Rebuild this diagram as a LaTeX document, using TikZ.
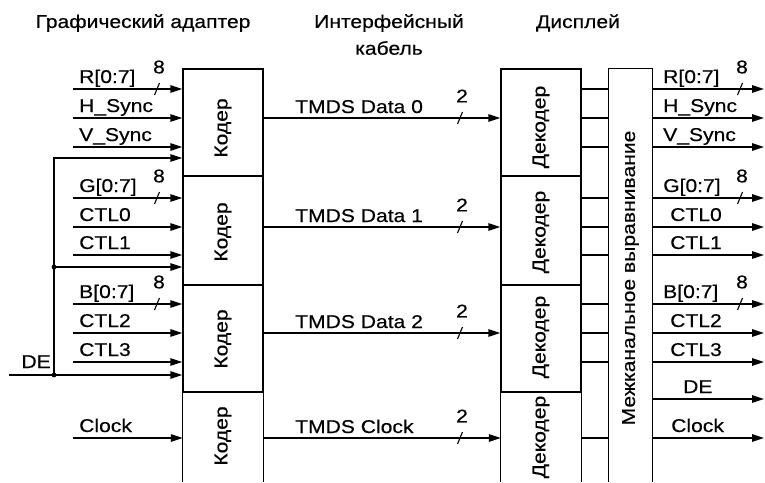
\documentclass[tikz,border=0pt]{standalone}
\usepackage{fontspec}
\setmainfont{Liberation Sans}[FakeStretch=1.14,FakeBold=0.4]
\usetikzlibrary{arrows.meta,calc}
\tikzset{
  wire/.style={line width=1.35pt},
  sig/.style={line width=1.35pt,-{Triangle[length=12pt,width=7.5pt]}},
  blk/.style={draw,line width=1.35pt,minimum width=80pt,inner sep=0pt},
  lbl/.style={font=\fontsize{18.5}{20}\selectfont,inner sep=0pt},
  rot/.style={lbl,rotate=90},
}
\newcommand\inpt[4]{%
  \coordinate (i#1) at (73,#2);
  \draw[sig] (i#1) -- (i#1 -| #4.west);
  \node[lbl,anchor=base west] (li#1) at (79,#2-6) {#3};
}
\newcommand\outpt[4]{%
  \coordinate (o#1) at (764,#2);
  \draw[sig] (o#1 -| align.east) -- (o#1);
  \node[lbl,anchor=base west] (lo#1) at (#4,#2-6) {#3};
}
\newcommand\busmark[4]{%
  \coordinate (b#1) at (#2,#3);
  \draw[line width=1.1pt] ([shift={(-2.5,6)}]b#1) -- ([shift={(2.5,-6)}]b#1);
  \node[lbl] (bl#1) at ([shift={(2,-22)}]b#1) {#4};
}
\begin{document}
\begin{tikzpicture}[x=1pt,y=-1pt]
\fill[white] (0,0) rectangle (765,482);
\useasboundingbox (0,0) rectangle (765,482);

% headers
\node[lbl] (hA) at (143,23) {Графический адаптер};
\node[lbl] (hB) at (389,23) {Интерфейсный};
\node[lbl] (hB2) at (389,48) {кабель};
\node[lbl] (hC) at (578,23) {Дисплей};

% encoder boxes
\node[blk,minimum height=107pt] (enc1) at (223,122.5) {};
\node[blk,minimum height=109pt] (enc2) at (223,230.5) {};
\node[blk,minimum height=107pt] (enc3) at (223,338.5) {};
\node[minimum width=80pt,minimum height=90pt,inner sep=0pt] (enc4) at (223,437) {};
\draw[wire] (enc4.south west) -- (enc4.north west) -- (enc4.north east) -- (enc4.south east);

% decoder boxes
\node[blk,minimum height=107pt] (dec1) at (541,122.5) {};
\node[blk,minimum height=109pt] (dec2) at (541,230.5) {};
\node[blk,minimum height=107pt] (dec3) at (541,338.5) {};
\node[minimum width=80pt,minimum height=90pt,inner sep=0pt] (dec4) at (541,437) {};
\draw[wire] (dec4.south west) -- (dec4.north west) -- (dec4.north east) -- (dec4.south east);

% alignment box
\node[minimum width=43pt,minimum height=413pt,inner sep=0pt] (align) at (630.5,275.5) {};
\draw[wire] (align.south west) -- (align.north west) -- (align.north east) -- (align.south east);

% rotated labels
\node[rot] (tE1) at (223,128) {Кодер};
\node[rot] (tE2) at (223,232) {Кодер};
\node[rot] (tE3) at (223,339) {Кодер};
\node[rot] (tE4) at (223,436) {Кодер};
\node[rot] (tD1) at (541,127) {Декодер};
\node[rot] (tD2) at (541,232) {Декодер};
\node[rot] (tD3) at (541,337) {Декодер};
\node[rot] (tD4) at (541,437) {Декодер};
\node[rot] (tA) at (630.5,278) {Межканальное выравнивание};

% inputs
\inpt{R}{89}{R[0:7]}{enc1}
\inpt{H}{118}{H\_Sync}{enc1}
\inpt{V}{147}{V\_Sync}{enc1}
\inpt{G}{198}{G[0:7]}{enc2}
\inpt{Ca}{227}{CTL0}{enc2}
\inpt{Cb}{255}{CTL1}{enc2}
\inpt{B}{304}{B[0:7]}{enc3}
\inpt{Cc}{333}{CTL2}{enc3}
\inpt{Cd}{362}{CTL3}{enc3}
\inpt{K}{438}{Clock}{enc4}
\busmark{iR}{157}{89}{8}
\busmark{iG}{157}{198}{8}
\busmark{iB}{157}{304}{8}

% DE distribution
\coordinate (deIn) at (9,375);
\coordinate (deTop) at (54,158);
\coordinate (deJ2) at (54,267);
\coordinate (deJ3) at (54,375);
\draw[sig] (deIn) -- (deIn -| enc3.west);
\draw[sig] (deJ3) -- (deTop) -- (deTop -| enc1.west);
\draw[sig] (deJ2) -- (deJ2 -| enc2.west);
\fill (deJ2) circle (2.4pt);
\fill (deJ3) circle (2.4pt);
\node[lbl,anchor=base east] (lDE) at (51,368) {DE};

% TMDS links
\draw[sig] (enc1.east |- iH) -- (dec1.west |- iH);
\draw[sig] (enc2.east |- iCa) -- (dec2.west |- iCa);
\draw[sig] (enc3.east |- iCc) -- (dec3.west |- iCc);
\draw[sig] (enc4.east |- iK) -- (dec4.west |- iK);
\node[lbl,anchor=base west] (lT0) at (295,113) {TMDS Data 0};
\node[lbl,anchor=base west] (lT1) at (295,222) {TMDS Data 1};
\node[lbl,anchor=base west] (lT2) at (295,328) {TMDS Data 2};
\node[lbl,anchor=base west] (lT3) at (295,433) {TMDS Clock};
\busmark{t0}{460}{118}{2}
\busmark{t1}{460}{227}{2}
\busmark{t2}{460}{333}{2}
\busmark{t3}{460}{438}{2}

% outputs
\outpt{R}{89}{R[0:7]}{663}
\outpt{H}{118}{H\_Sync}{663}
\outpt{V}{147}{V\_Sync}{663}
\outpt{G}{198}{G[0:7]}{663}
\outpt{Ca}{227}{CTL0}{670}
\outpt{Cb}{255}{CTL1}{670}
\outpt{B}{304}{B[0:7]}{663}
\outpt{Cc}{333}{CTL2}{670}
\outpt{Cd}{362}{CTL3}{670}
\outpt{D}{399}{DE}{683}
\outpt{K}{438}{Clock}{671}
\busmark{oR}{740}{89}{8}
\busmark{oG}{740}{198}{8}
\busmark{oB}{740}{304}{8}

% decoder to alignment wires
\draw[wire] (oR -| dec1.east) -- (oR -| align.west);
\draw[wire] (oH -| dec1.east) -- (oH -| align.west);
\draw[wire] (oV -| dec1.east) -- (oV -| align.west);
\draw[wire] (oG -| dec2.east) -- (oG -| align.west);
\draw[wire] (oCa -| dec2.east) -- (oCa -| align.west);
\draw[wire] (oCb -| dec2.east) -- (oCb -| align.west);
\draw[wire] (oB -| dec3.east) -- (oB -| align.west);
\draw[wire] (oCc -| dec3.east) -- (oCc -| align.west);
\draw[wire] (oCd -| dec3.east) -- (oCd -| align.west);
\draw[wire] (oK -| dec4.east) -- (oK -| align.west);
\end{tikzpicture}
\end{document}
